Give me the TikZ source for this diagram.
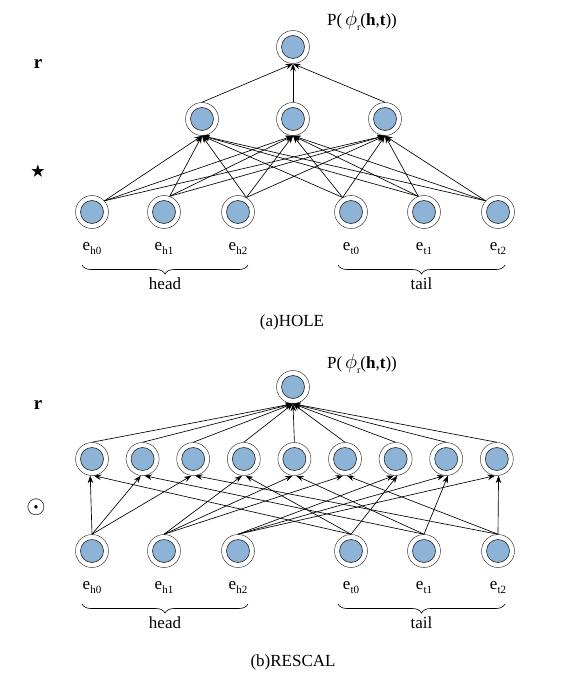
\documentclass[tikz,border=0pt]{standalone}
\usepackage{fontspec}
\setmainfont{Liberation Serif}
\usepackage{amsmath, amssymb}
\usetikzlibrary{arrows.meta, positioning, calc, decorations.pathreplacing}
\definecolor{cellblue}{RGB}{141,179,214}
\newcommand{\ent}[1]{e\raisebox{-0.5ex}{\fontsize{11}{12}\selectfont #1}}
\newcommand{\score}{P(\,{\fontsize{20}{22}\selectfont$\phi$}\raisebox{-0.6ex}{\fontsize{10}{12}\selectfont r}(\textbf{h},\textbf{t}))}

\begin{document}
\begin{tikzpicture}[x=1pt, y=-1pt,
	unit/.style={circle, draw=black!75, fill=white, line width=0.5pt, minimum size=33pt, inner sep=0pt,
		path picture={\draw[fill=cellblue, draw=black!85, line width=0.6pt] (path picture bounding box.center) circle (11.5pt);}},
	arrow/.style={-{Stealth[length=7.5pt, width=5.5pt]}, line width=0.65pt},
	lab/.style={font=\fontsize{17}{20}\selectfont},
	brace/.style={decorate, decoration={brace, mirror, amplitude=9pt}, line width=0.6pt}
]
\useasboundingbox (0,0) rectangle (580,679);

% ---------- (a) HOLE ----------
% Units
\node[unit] (aout) at (293,47) {};
\node[unit] (am1) at (202,119) {};
\node[unit] (am2) at (293,119) {};
\node[unit] (am3) at (385,119) {};
\node[unit] (ah0) at (92,212) {};
\node[unit] (ah1) at (164,212) {};
\node[unit] (ah2) at (238,212) {};
\node[unit] (at0) at (351,212) {};
\node[unit] (at1) at (424,212) {};
\node[unit] (at2) at (498,212) {};

% Labels
\node[lab] (ascore) at (362,21) {\score};
\node[lab] (ar) at (38,64) {\fontsize{19}{20}\selectfont\textbf{r}};
\node[lab] (astar) at (38,172) {\fontsize{15}{16}\selectfont$\bigstar$};
\node[lab, below=10pt of ah0] (eah0) {\ent{h0}};
\node[lab, below=10pt of ah1] (eah1) {\ent{h1}};
\node[lab, below=10pt of ah2] (eah2) {\ent{h2}};
\node[lab, below=10pt of at0] (eat0) {\ent{t0}};
\node[lab, below=10pt of at1] (eat1) {\ent{t1}};
\node[lab, below=10pt of at2] (eat2) {\ent{t2}};

% Braces
\coordinate (ahb1) at (82,265);
\coordinate (ahb2) at (248,265);
\coordinate (atb1) at (338,265);
\coordinate (atb2) at (505,265);
\draw[brace] (ahb1) -- (ahb2) node[midway, below=9pt, lab] (ahead) {head};
\draw[brace] (atb1) -- (atb2) node[midway, below=9pt, lab] (atail) {tail};
\node[lab] (acap) at (292,322) {(a)HOLE};

% Connections
\foreach \s/\a in {ah0/42, ah1/70, ah2/60, at0/120, at1/110, at2/138}
	\foreach \d in {am1, am2, am3}
		\draw[arrow] (\s.\a) -- (\d.south);
\foreach \d in {am1, am2, am3}
	\draw[arrow] (\d.north) -- (aout.south);

% ---------- (b) RESCAL ----------
% Units
\node[unit] (bout) at (293,387) {};
\foreach \k/\x in {1/92, 2/142.6, 3/193.2, 4/243.8, 5/294.4, 6/345, 7/395.6, 8/446.2, 9/496.8}
	\node[unit] (bm\k) at (\x,459) {};
\node[unit] (bh0) at (92,551) {};
\node[unit] (bh1) at (164,551) {};
\node[unit] (bh2) at (238,551) {};
\node[unit] (bt0) at (351,551) {};
\node[unit] (bt1) at (424,551) {};
\node[unit] (bt2) at (498,551) {};

% Labels
\node[lab] (bscore) at (362,364) {\score};
\node[lab] (br) at (38,405) {\fontsize{19}{20}\selectfont\textbf{r}};
\node[lab] (bdot) at (36,507) {\fontsize{24}{26}\selectfont$\odot$};
\node[lab, below=10pt of bh0] (ebh0) {\ent{h0}};
\node[lab, below=10pt of bh1] (ebh1) {\ent{h1}};
\node[lab, below=10pt of bh2] (ebh2) {\ent{h2}};
\node[lab, below=10pt of bt0] (ebt0) {\ent{t0}};
\node[lab, below=10pt of bt1] (ebt1) {\ent{t1}};
\node[lab, below=10pt of bt2] (ebt2) {\ent{t2}};

% Braces
\coordinate (bhb1) at (82,604);
\coordinate (bhb2) at (248,604);
\coordinate (btb1) at (338,604);
\coordinate (btb2) at (505,604);
\draw[brace] (bhb1) -- (bhb2) node[midway, below=9pt, lab] (bhead) {head};
\draw[brace] (btb1) -- (btb2) node[midway, below=9pt, lab] (btail) {tail};
\node[lab] (bcap) at (293,662) {(b)RESCAL};

% Connections: unit 3i+j+1 takes h_i and t_j
\foreach \i in {0,1,2}
	\foreach \j in {0,1,2} {
		\pgfmathtruncatemacro{\k}{3*\i+\j+1}
		\draw[arrow] (bh\i.north) -- (bm\k.264);
		\draw[arrow] (bt\j.north) -- (bm\k.276);
	}
\foreach \k in {1,...,9}
	\draw[arrow] (bm\k.north) -- (bout.south);

\end{tikzpicture}
\end{document}
